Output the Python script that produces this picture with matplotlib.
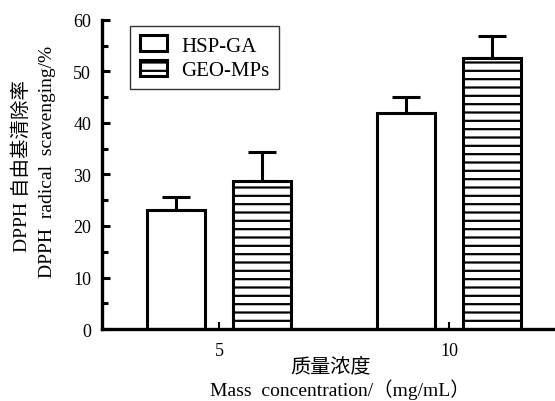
import numpy as np
import matplotlib.pyplot as plt

plt.rcParams['font.family'] = ['Liberation Serif', 'Noto Sans CJK SC']
plt.rcParams['hatch.linewidth'] = 1.6

# 数据
conc = [5, 10]
hsp_ga = [23.2, 42.0]
hsp_ga_err = [2.4, 3.0]
geo_mps = [28.7, 52.6]
geo_mps_err = [5.7, 4.2]
series_names = ['HSP-GA', 'GEO-MPs']

fig = plt.figure(figsize=(5.55, 4.02), dpi=100)
ax = fig.add_axes([0.184, 0.179, 0.816, 0.769])

x = np.array(conc, dtype=float)
w = 1.26
off = 0.93

ax.bar(x - off, hsp_ga, width=w, color='white', edgecolor='black', linewidth=2.2,
       label=series_names[0], zorder=2)
ax.bar(x + off, geo_mps, width=w, color='white', edgecolor='black', linewidth=2.2,
       hatch='--', label=series_names[1], zorder=2)

# 只画上误差线
ax.errorbar(x - off, hsp_ga, yerr=[np.zeros(2), hsp_ga_err], fmt='none', ecolor='black',
            elinewidth=2.2, capsize=10, capthick=2.2, zorder=1)
ax.errorbar(x + off, geo_mps, yerr=[np.zeros(2), geo_mps_err], fmt='none', ecolor='black',
            elinewidth=2.2, capsize=10, capthick=2.2, zorder=1)

ax.set_xlim(2.46, 12.3)
ax.set_ylim(0, 60)
ax.set_xticks(conc)
ax.set_xticklabels([str(c) for c in conc])
ax.set_yticks(np.arange(0, 61, 10))
ax.set_yticks(np.arange(5, 60, 10), minor=True)

for s in ['top', 'right']:
    ax.spines[s].set_visible(False)
ax.spines['left'].set_linewidth(2.4)
ax.spines['bottom'].set_linewidth(2.4)

ax.tick_params(axis='y', which='major', direction='in', length=6, width=2.2,
               labelsize=13, pad=8)
ax.tick_params(axis='y', which='minor', direction='in', length=4, width=2.2)
ax.tick_params(axis='x', which='major', direction='in', length=5, width=1.5,
               labelsize=13, pad=9)

leg = ax.legend(loc='upper left', bbox_to_anchor=(0.062, 0.98), borderaxespad=0,
                fontsize=15, frameon=True, fancybox=False, edgecolor='black',
                handlelength=1.3, handleheight=0.8, handletextpad=0.7,
                borderpad=0.45, labelspacing=0.2)
leg.get_frame().set_linewidth(1.0)

fig.text(0.040, 0.587, 'DPPH 自由基清除率', rotation=90, ha='center', va='center',
         fontsize=14)
fig.text(0.085, 0.597, 'DPPH  radical  scavenging/%', rotation=90, ha='center',
         va='center', fontsize=14)
fig.text(0.596, 0.085, '质量浓度', ha='center', va='center', fontsize=14.5)
fig.text(0.613, 0.030, 'Mass  concentration/（mg/mL）', ha='center', va='center',
         fontsize=14)

fig.savefig('out.png', dpi=100)
